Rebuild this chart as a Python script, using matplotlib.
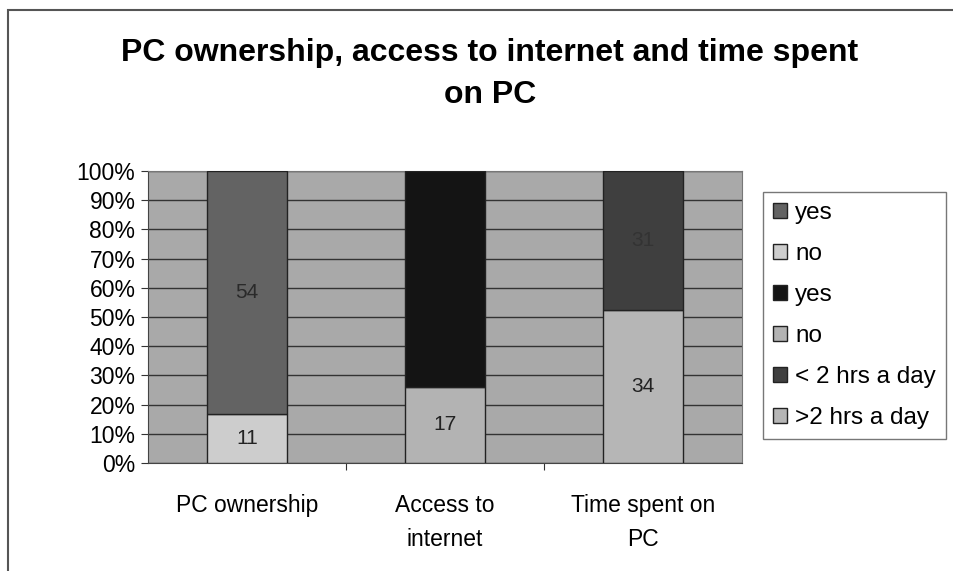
import matplotlib
matplotlib.use("Agg")
import matplotlib.pyplot as plt
import matplotlib.patches as patches
import numpy as np

plt.rcParams['font.family'] = ['Liberation Sans', 'DejaVu Sans']

# data (counts)
categories = ["PC ownership", "Access to\ninternet", "Time spent on\nPC"]
bottom_counts = [11, 17, 34]   # no, no, >2 hrs a day
top_counts = [54, 48, 31]      # yes, yes, < 2 hrs a day
bottom_labels = ["no", "no", ">2 hrs a day"]
top_labels = ["yes", "yes", "< 2 hrs a day"]
bottom_colors = ["#cdcdcd", "#b3b3b3", "#b6b6b6"]
top_colors = ["#636363", "#141414", "#3f3f3f"]
label_colors = ["#222222", "#222222", "#222222"]
top_label_colors = ["#2a2a2a", "#141414", "#333333"]

bottom_counts = np.array(bottom_counts, dtype=float)
top_counts = np.array(top_counts, dtype=float)
totals = bottom_counts + top_counts
bottom_pct = bottom_counts / totals * 100
top_pct = top_counts / totals * 100

fig = plt.figure(figsize=(9.54, 5.71), dpi=100)
fig.patch.set_facecolor("white")

# outer chart border
fig.patches.append(patches.Rectangle((8 / 954, -0.05), 1.0, 1 - 10 / 571 + 0.05,
                                     transform=fig.transFigure, fill=False,
                                     edgecolor="#555555", linewidth=1.5))

ax = fig.add_axes([148 / 954, 108 / 571, 594 / 954, 292 / 571])
ax.set_facecolor("#a9a9a9")

x = np.arange(len(categories))
handles = []
for i in range(len(categories)):
    hb = ax.bar(x[i], bottom_pct[i], width=0.4, color=bottom_colors[i],
                edgecolor="#222222", linewidth=1, zorder=3)
    ht = ax.bar(x[i], top_pct[i], width=0.4, bottom=bottom_pct[i], color=top_colors[i],
                edgecolor="#222222", linewidth=1, zorder=3)
    ax.text(x[i], bottom_pct[i] / 2, "%d" % bottom_counts[i], ha="center", va="center",
            fontsize=15, color=label_colors[i], zorder=4)
    ax.text(x[i], bottom_pct[i] + top_pct[i] / 2, "%d" % top_counts[i], ha="center",
            va="center", fontsize=15, color=top_label_colors[i], zorder=4)
    handles.append((ht, top_labels[i]))
    handles.append((hb, bottom_labels[i]))

ax.set_xlim(-0.5, 2.5)
ax.set_ylim(0, 100)
ax.set_yticks(np.arange(0, 101, 10))
ax.set_yticklabels(["%d%%" % v for v in range(0, 101, 10)], fontsize=16.5)
ax.set_xticks([0.5, 1.5], minor=False)
ax.set_xticklabels([])
ax.set_xticks(x, minor=True)
ax.set_xticklabels(categories, minor=True, fontsize=16.5, linespacing=1.65)
ax.tick_params(axis="x", which="minor", length=0, pad=22)
ax.tick_params(axis="x", which="major", length=5, direction="out", color="#333333")
ax.tick_params(axis="y", length=5, color="#333333", pad=4)
ax.yaxis.grid(True, color="#333333", linewidth=1, zorder=1)
ax.set_axisbelow(True)
for s in ["top", "right"]:
    ax.spines[s].set_color("#777777")
for s in ["left", "bottom"]:
    ax.spines[s].set_color("#444444")

fig.text(490 / 954, 1 - 74 / 571, "PC ownership, access to internet and time spent\non PC",
         ha="center", va="center", fontsize=23, fontweight="bold", linespacing=1.5)

leg = fig.legend([h[0] for h in handles], [h[1] for h in handles],
                 loc="upper left", bbox_to_anchor=(763 / 954, 1 - 192 / 571),
                 fontsize=17.5, frameon=True, fancybox=False, edgecolor="#555555",
                 handlelength=0.55, handleheight=0.55, handletextpad=0.35,
                 labelspacing=0.78, borderpad=0.42, borderaxespad=0)
leg.get_frame().set_linewidth(1)

plt.savefig("out.png", dpi=100)
